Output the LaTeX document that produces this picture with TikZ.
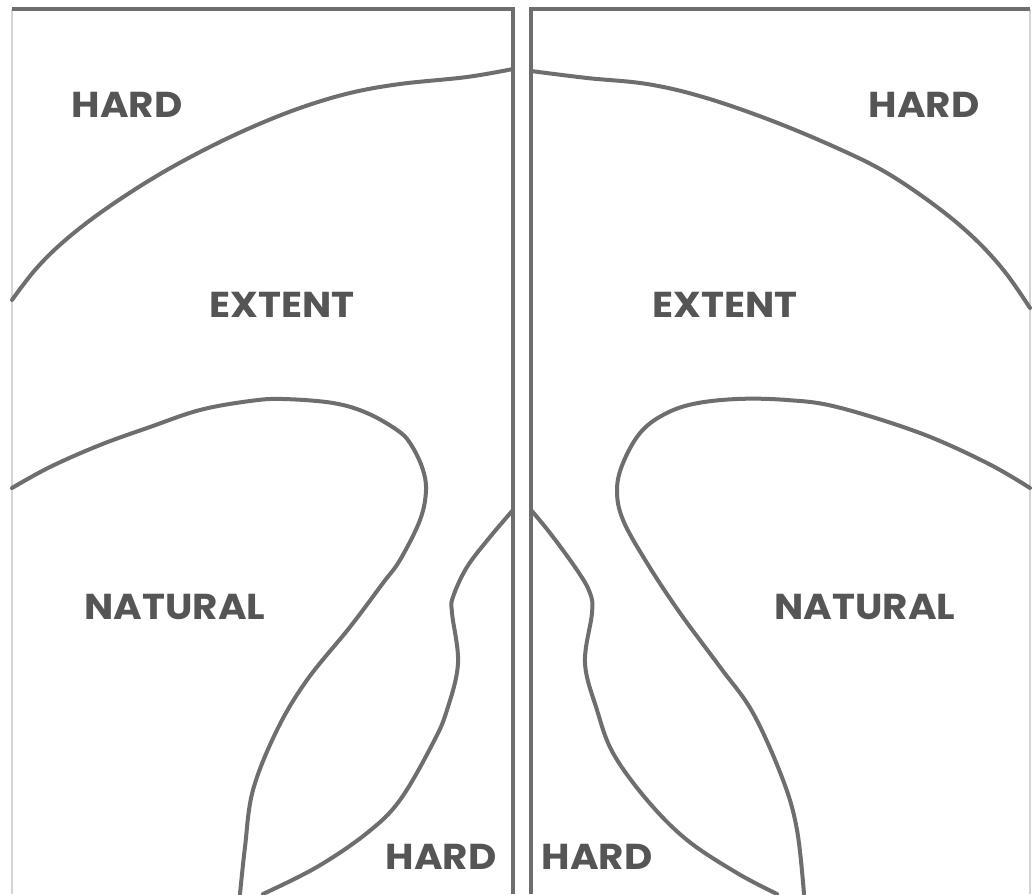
\documentclass[tikz,border=0pt]{standalone}
\usepackage{fontspec}
\newfontfamily\labfont{Poppins}[FakeStretch=1.08]
\definecolor{txtgray}{HTML}{555555}
\definecolor{linegray}{HTML}{6E6E6E}
\definecolor{edgegray}{HTML}{D4D4D4}
\tikzset{
  zone/.style={draw=linegray, line width=4pt, line cap=round, line join=round},
  frame/.style={draw=linegray, line width=3.2pt},
  thinframe/.style={draw=edgegray, line width=1.2pt},
  lab/.style={text=txtgray, font=\labfont\bfseries\fontsize{36}{36}\selectfont, inner sep=0pt, anchor=center}
}
\begin{document}
\begin{tikzpicture}[x=1pt, y=-1pt]
\useasboundingbox (0,0) rectangle (1035,894);
\fill[white] (0,0) rectangle (1035,894);
% frames
\draw[thinframe] (12,9) -- (12,894);
\draw[thinframe] (1030,9) -- (1030,894);
\draw[frame] (12,9) -- (513,9) -- (513,894);
\draw[frame] (531,894) -- (531,9) -- (1030,9);
% left panel curves
\draw[zone] plot[smooth, tension=0.6] coordinates {(513,69) (467,77) (400,84) (350,93) (300,108) (250,128) (200,152) (150,180) (100,213) (62,243) (35,270) (12,300)};
\draw[zone] plot[smooth, tension=0.6] coordinates {(12,488) (50,467) (100,445) (150,427) (200,410) (250,401) (283,399) (333,403) (367,413) (397,430) (410,443) (422,467) (426,490) (420,520) (400,560) (383,583) (350,627) (307,680) (277,730) (253,790) (245,847) (240,894)};
\draw[zone] plot[smooth, tension=0.6] coordinates {(513,510) (490,537) (467,567) (453,597) (452,613) (458,663) (447,710) (433,743) (400,800) (367,833) (317,867) (263,894)};
% right panel curves
\draw[zone] plot[smooth, tension=0.6] coordinates {(531,71) (587,78) (647,84) (703,97) (770,120) (837,148) (887,173) (937,207) (975,239) (1005,272) (1030,308)};
\draw[zone] plot[smooth, tension=0.6] coordinates {(1030,488) (987,463) (920,433) (837,407) (787,400) (737,399) (693,404) (663,415) (640,433) (623,463) (617,490) (623,520) (647,563) (680,613) (720,667) (753,713) (783,780) (797,830) (804,894)};
\draw[zone] plot[smooth, tension=0.6] coordinates {(531,510) (550,533) (577,570) (590,593) (592,613) (585,663) (597,710) (613,753) (647,800) (687,840) (737,873) (777,894)};
% labels
\node[lab] (hardTL) at (127,105) {HARD};
\node[lab] (hardTR) at (924,105) {HARD};
\node[lab] (extL) at (282,305) {EXTENT};
\node[lab] (extR) at (725,305) {EXTENT};
\node[lab] (natL) at (175,607) {NATURAL};
\node[lab] (natR) at (865,607) {NATURAL};
\node[lab] (hardBL) at (441,857) {HARD};
\node[lab] (hardBR) at (597,857) {HARD};
\end{tikzpicture}
\end{document}
